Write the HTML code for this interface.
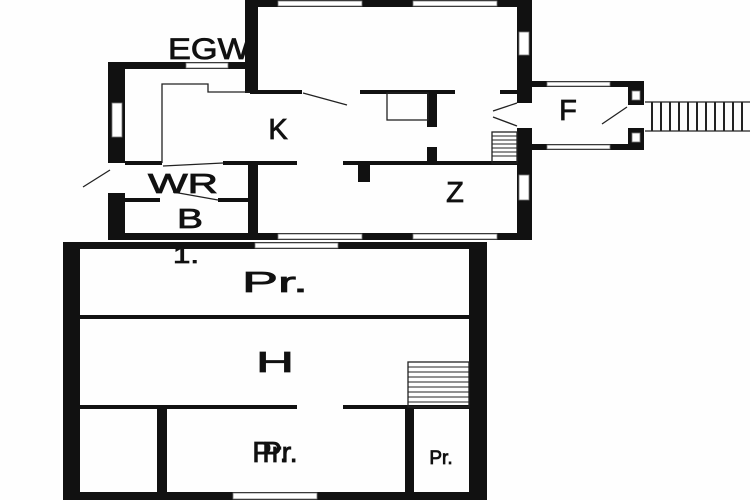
<!DOCTYPE html>
<html><head><meta charset="utf-8"><style>html,body{margin:0;padding:0;background:#fff;width:750px;height:500px;overflow:hidden}</style></head>
<body>
<svg width="750" height="500" viewBox="0 0 750 500" xmlns="http://www.w3.org/2000/svg" font-family="Liberation Sans, sans-serif">
<rect width="750" height="500" fill="#fefefe"/>
<g fill="#111">
<rect x="245" y="0" width="285" height="7"/>
<rect x="245" y="0" width="13" height="93"/>
<rect x="517" y="0" width="15" height="103"/>
<rect x="517" y="128" width="15" height="112"/>
<rect x="245" y="233" width="287" height="7"/>
<rect x="248" y="163" width="10" height="77"/>
<rect x="108" y="62" width="150" height="7"/>
<rect x="108" y="62" width="17" height="101"/>
<rect x="108" y="193" width="17" height="47"/>
<rect x="108" y="233" width="150" height="7"/>
<rect x="250" y="90" width="52" height="4"/>
<rect x="360" y="90" width="95" height="4"/>
<rect x="500" y="90" width="17" height="4"/>
<rect x="427" y="93" width="10" height="34"/>
<rect x="427" y="147" width="10" height="16"/>
<rect x="125" y="161" width="37" height="4"/>
<rect x="223" y="161" width="74" height="4"/>
<rect x="343" y="161" width="174" height="4"/>
<rect x="358" y="163" width="12" height="19"/>
<rect x="125" y="198" width="35" height="4"/>
<rect x="218" y="198" width="32" height="4"/>
<rect x="517" y="81" width="127" height="6"/>
<rect x="517" y="144" width="127" height="6"/>
<rect x="628" y="81" width="16" height="24"/>
<rect x="628" y="128" width="16" height="22"/>
<rect x="63" y="242" width="424" height="7"/>
<rect x="63" y="242" width="17" height="258"/>
<rect x="469" y="242" width="18" height="258"/>
<rect x="63" y="492" width="424" height="8"/>
<rect x="80" y="315" width="389" height="4"/>
<rect x="80" y="405" width="217" height="4"/>
<rect x="343" y="405" width="126" height="4"/>
<rect x="157" y="407" width="10" height="85"/>
<rect x="405" y="407" width="9" height="85"/>
</g>
<g fill="#fff" stroke="#777" stroke-width="0.8">
<rect x="278" y="1" width="84" height="5"/>
<rect x="413" y="1" width="84" height="5"/>
<rect x="278" y="234" width="84" height="5"/>
<rect x="413" y="234" width="84" height="5"/>
<rect x="519" y="32" width="10" height="23"/>
<rect x="519" y="175" width="10" height="25"/>
<rect x="186" y="63" width="42" height="5"/>
<rect x="112" y="103" width="10" height="34"/>
<rect x="547" y="82" width="63" height="4"/>
<rect x="547" y="145" width="63" height="4"/>
<rect x="632" y="91" width="8" height="9"/>
<rect x="632" y="133" width="8" height="9"/>
<rect x="255" y="243" width="83" height="5"/>
<rect x="233" y="493" width="84" height="6"/>
</g>
<g stroke="#222" stroke-width="1.3" fill="none">
<polyline points="162,163 162,84 208,84 208,92 250,92"/>
<rect x="387" y="93" width="41" height="27"/>
<line x1="303" y1="93" x2="347" y2="105"/>
<line x1="493" y1="111" x2="517" y2="103"/>
<line x1="493" y1="117" x2="517" y2="126"/>
<line x1="602" y1="124" x2="627" y2="107"/>
<line x1="83" y1="187" x2="110" y2="170"/>
<line x1="163" y1="166" x2="223" y2="163"/>
<line x1="173" y1="192" x2="218" y2="200"/>
<line x1="645" y1="102" x2="750" y2="102"/>
<line x1="645" y1="131" x2="750" y2="131"/>
<rect x="492" y="132" width="25" height="31"/>
<rect x="408" y="362" width="61" height="45"/>
</g>
<g stroke="#222" stroke-width="2">
<line x1="652" y1="102" x2="652" y2="131"/><line x1="661" y1="102" x2="661" y2="131"/><line x1="670" y1="102" x2="670" y2="131"/><line x1="679" y1="102" x2="679" y2="131"/><line x1="688" y1="102" x2="688" y2="131"/><line x1="697" y1="102" x2="697" y2="131"/><line x1="706" y1="102" x2="706" y2="131"/><line x1="715" y1="102" x2="715" y2="131"/><line x1="724" y1="102" x2="724" y2="131"/><line x1="733" y1="102" x2="733" y2="131"/><line x1="742" y1="102" x2="742" y2="131"/>
</g>
<g stroke="#222" stroke-width="1">
<line x1="492" y1="136" x2="517" y2="136"/><line x1="492" y1="140" x2="517" y2="140"/><line x1="492" y1="144" x2="517" y2="144"/><line x1="492" y1="148" x2="517" y2="148"/><line x1="492" y1="152" x2="517" y2="152"/><line x1="492" y1="156" x2="517" y2="156"/>
<line x1="408" y1="367" x2="469" y2="367"/><line x1="408" y1="372" x2="469" y2="372"/><line x1="408" y1="377" x2="469" y2="377"/><line x1="408" y1="382" x2="469" y2="382"/><line x1="408" y1="387" x2="469" y2="387"/><line x1="408" y1="392" x2="469" y2="392"/><line x1="408" y1="397" x2="469" y2="397"/><line x1="408" y1="402" x2="469" y2="402"/>
</g>
<g fill="#111" stroke="#111" stroke-width="0.8" text-anchor="middle">
<text x="209" y="59" font-size="30" textLength="82" lengthAdjust="spacingAndGlyphs">EGW</text>
<text x="278" y="139" font-size="29">K</text>
<text x="183" y="193" font-size="28" textLength="70" lengthAdjust="spacingAndGlyphs">WR</text>
<text x="190" y="228" font-size="28" textLength="26" lengthAdjust="spacingAndGlyphs">B</text>
<text x="455" y="202" font-size="29">Z</text>
<text x="568" y="120" font-size="29">F</text>
<text x="186" y="263" font-size="24" textLength="26" lengthAdjust="spacingAndGlyphs">1.</text>
<text x="275" y="292" font-size="29" textLength="66" lengthAdjust="spacingAndGlyphs">Pr.</text>
<text x="275" y="372" font-size="29" textLength="38" lengthAdjust="spacingAndGlyphs">H</text>
<text x="270" y="462" font-size="29">Pr.</text>
<text x="280" y="462" font-size="29">Pr.</text>
<text x="441" y="464" font-size="19">Pr.</text>
</g>
</svg>
</body></html>
